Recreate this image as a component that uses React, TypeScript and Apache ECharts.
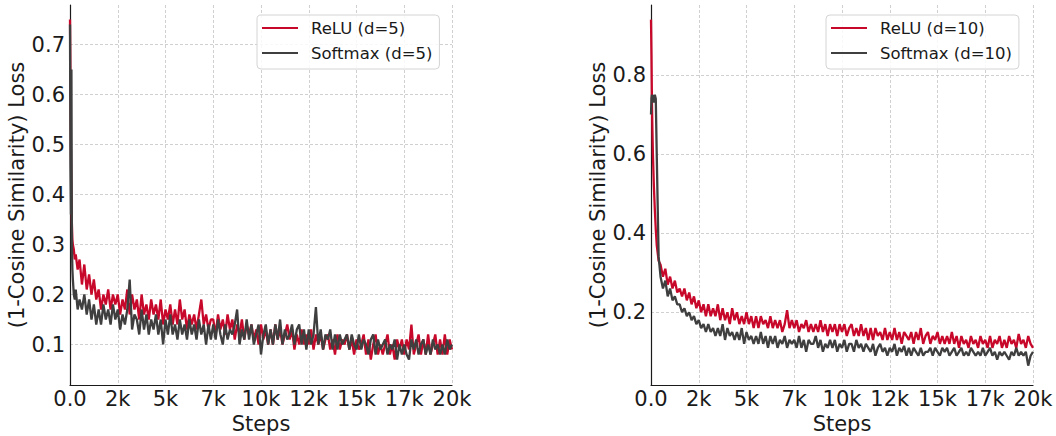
import React, { useEffect, useRef } from "react";
import * as echarts from "echarts";

// x positions (training steps)
const earlySteps = [0, 25, 50, 75, 100, 125, 150, 200, 250, 300, 400];
const mainStepStart = 500;
const mainStepSize = 125;
const mainStepCount = 157;

const xTickLabels = ["0.0", "2k", "5k", "7k", "10k", "12k", "15k", "17k", "20k"];
const xTickInterval = 2500;

const leftYTicks = [0.1, 0.2, 0.3, 0.4, 0.5, 0.6, 0.7];
const leftYLabels = ["0.1", "0.2", "0.3", "0.4", "0.5", "0.6", "0.7"];
const rightYTicks = [0.2, 0.4, 0.6, 0.8];
const rightYLabels = ["0.2", "0.4", "0.6", "0.8"];

// Left panel (d=5)
const reluD5 = [
  0.75, 0.62, 0.48, 0.40, 0.34, 0.31, 0.30, 0.29, 0.27, 0.28, 0.25,
  0.27, 0.22, 0.26, 0.21, 0.24, 0.20, 0.23, 0.19,
  0.21, 0.17, 0.20, 0.18, 0.21, 0.17, 0.20, 0.18,
  0.20, 0.16, 0.19, 0.17, 0.21, 0.16, 0.20, 0.17,
  0.19, 0.15, 0.20, 0.16, 0.18, 0.15, 0.19, 0.16,
  0.18, 0.15, 0.19, 0.14, 0.17, 0.15, 0.18, 0.14,
  0.17, 0.14, 0.19, 0.15, 0.17, 0.13, 0.16, 0.14,
  0.16, 0.13, 0.16, 0.19, 0.14, 0.16, 0.13, 0.15,
  0.15, 0.12, 0.16, 0.13, 0.15, 0.12, 0.16, 0.13,
  0.15, 0.11, 0.14, 0.12, 0.15, 0.11, 0.14, 0.12,
  0.14, 0.11, 0.13, 0.10, 0.14, 0.11, 0.13, 0.10,
  0.13, 0.10, 0.14, 0.11, 0.13, 0.10, 0.12, 0.14,
  0.11, 0.13, 0.09, 0.12, 0.10, 0.13, 0.10, 0.12,
  0.10, 0.13, 0.09, 0.12, 0.10, 0.12, 0.09, 0.11,
  0.12, 0.09, 0.11, 0.08, 0.12, 0.09, 0.11, 0.10,
  0.12, 0.09, 0.11, 0.08, 0.11, 0.09, 0.10, 0.12,
  0.08, 0.11, 0.07, 0.10, 0.12, 0.08, 0.10, 0.08,
  0.10, 0.12, 0.08, 0.10, 0.07, 0.11, 0.09, 0.11,
  0.08, 0.11, 0.09, 0.14, 0.08, 0.10, 0.12, 0.08,
  0.11, 0.08, 0.12, 0.08, 0.10, 0.12, 0.08, 0.11,
  0.08, 0.12, 0.08, 0.11, 0.09,
];

const softmaxD5 = [
  0.74, 0.45, 0.36, 0.65, 0.30, 0.25, 0.23, 0.20, 0.19, 0.21, 0.17,
  0.19, 0.17, 0.20, 0.16, 0.19, 0.15, 0.18, 0.14,
  0.17, 0.14, 0.18, 0.15, 0.17, 0.14, 0.18, 0.15,
  0.17, 0.13, 0.16, 0.14, 0.17, 0.23, 0.13, 0.16,
  0.15, 0.12, 0.17, 0.13, 0.16, 0.12, 0.15, 0.13,
  0.16, 0.12, 0.15, 0.10, 0.15, 0.12, 0.16, 0.12,
  0.14, 0.11, 0.15, 0.12, 0.14, 0.11, 0.15, 0.12,
  0.14, 0.11, 0.15, 0.12, 0.14, 0.10, 0.14, 0.11,
  0.14, 0.11, 0.15, 0.12, 0.10, 0.14, 0.11, 0.13,
  0.12, 0.14, 0.17, 0.10, 0.13, 0.11, 0.15, 0.11,
  0.14, 0.10, 0.12, 0.14, 0.08, 0.12, 0.14, 0.10,
  0.13, 0.10, 0.14, 0.11, 0.15, 0.10, 0.13, 0.11,
  0.12, 0.14, 0.10, 0.13, 0.14, 0.10, 0.13, 0.09,
  0.13, 0.10, 0.12, 0.175, 0.10, 0.13, 0.09, 0.12,
  0.11, 0.13, 0.09, 0.12, 0.09, 0.12, 0.10, 0.11,
  0.12, 0.09, 0.12, 0.10, 0.09, 0.12, 0.09, 0.11,
  0.10, 0.08, 0.11, 0.12, 0.08, 0.11, 0.09, 0.10,
  0.11, 0.08, 0.10, 0.09, 0.11, 0.07, 0.10, 0.08,
  0.10, 0.08, 0.07, 0.11, 0.09, 0.11, 0.08, 0.10,
  0.11, 0.08, 0.10, 0.08, 0.11, 0.09, 0.10, 0.08,
  0.10, 0.08, 0.11, 0.09, 0.10,
];

// Right panel (d=10)
const reluD10 = [
  0.94, 0.85, 0.73, 0.66, 0.60, 0.56, 0.52, 0.46, 0.41, 0.37, 0.33,
  0.32, 0.29, 0.31, 0.27, 0.29, 0.26, 0.28, 0.25,
  0.26, 0.24, 0.26, 0.23, 0.25, 0.22, 0.24, 0.21,
  0.23, 0.20, 0.22, 0.19, 0.22, 0.19, 0.21, 0.19,
  0.22, 0.18, 0.21, 0.18, 0.20, 0.17, 0.21, 0.18,
  0.20, 0.17, 0.19, 0.17, 0.20, 0.17, 0.19, 0.16,
  0.19, 0.16, 0.19, 0.17, 0.18, 0.16, 0.19, 0.16,
  0.18, 0.16, 0.18, 0.15, 0.17, 0.205, 0.16, 0.18,
  0.16, 0.18, 0.15, 0.17, 0.16, 0.18, 0.15, 0.17,
  0.15, 0.17, 0.15, 0.18, 0.15, 0.17, 0.14, 0.17,
  0.15, 0.17, 0.14, 0.17, 0.15, 0.17, 0.14, 0.16,
  0.17, 0.14, 0.16, 0.14, 0.17, 0.14, 0.16, 0.13,
  0.16, 0.13, 0.16, 0.14, 0.15, 0.13, 0.16, 0.13,
  0.15, 0.13, 0.16, 0.13, 0.15, 0.12, 0.15, 0.14,
  0.13, 0.15, 0.12, 0.15, 0.13, 0.16, 0.12, 0.14,
  0.15, 0.12, 0.14, 0.13, 0.15, 0.12, 0.14, 0.12,
  0.14, 0.12, 0.15, 0.12, 0.14, 0.11, 0.14, 0.12,
  0.13, 0.11, 0.14, 0.12, 0.13, 0.11, 0.14, 0.12,
  0.13, 0.11, 0.14, 0.11, 0.13, 0.12, 0.14, 0.11,
  0.13, 0.11, 0.14, 0.12, 0.13, 0.11, 0.145, 0.12,
  0.13, 0.11, 0.14, 0.12, 0.11,
];

const softmaxD10 = [
  0.70, 0.74, 0.75, 0.73, 0.75, 0.74, 0.73, 0.75, 0.74, 0.60, 0.34,
  0.29, 0.26, 0.28, 0.24, 0.26, 0.23, 0.24, 0.22,
  0.22, 0.20, 0.21, 0.19, 0.20, 0.18, 0.19, 0.17,
  0.18, 0.16, 0.17, 0.15, 0.17, 0.15, 0.16, 0.14,
  0.16, 0.14, 0.17, 0.13, 0.16, 0.14, 0.15, 0.13,
  0.15, 0.13, 0.16, 0.12, 0.15, 0.13, 0.14, 0.12,
  0.14, 0.12, 0.15, 0.12, 0.14, 0.11, 0.14, 0.12,
  0.14, 0.11, 0.13, 0.12, 0.14, 0.11, 0.13, 0.12,
  0.13, 0.11, 0.14, 0.11, 0.13, 0.10, 0.13, 0.12,
  0.12, 0.14, 0.11, 0.13, 0.10, 0.12, 0.11, 0.13,
  0.11, 0.13, 0.10, 0.12, 0.11, 0.13, 0.10, 0.12,
  0.12, 0.10, 0.13, 0.11, 0.12, 0.10, 0.12, 0.11,
  0.10, 0.12, 0.09, 0.11, 0.12, 0.10, 0.11, 0.09,
  0.11, 0.10, 0.12, 0.09, 0.11, 0.10, 0.115, 0.09,
  0.11, 0.09, 0.11, 0.10, 0.09, 0.11, 0.09, 0.10,
  0.10, 0.11, 0.09, 0.11, 0.10, 0.09, 0.11, 0.10,
  0.11, 0.09, 0.10, 0.11, 0.09, 0.10, 0.11, 0.09,
  0.10, 0.09, 0.11, 0.10, 0.09, 0.10, 0.09, 0.11,
  0.09, 0.10, 0.11, 0.09, 0.10, 0.08, 0.10, 0.09,
  0.10, 0.09, 0.08, 0.10, 0.09, 0.11, 0.09, 0.10,
  0.09, 0.10, 0.065, 0.09, 0.10,
];

const RED = "#c8082a";
const DARK = "#3f3f3f";
const FONT = "DejaVu Sans";
const TEXT = "#1a1a1a";
const GRID_COLOR = "#c4c4c4";

function buildSteps(): number[] {
  const s = [...earlySteps];
  for (let i = 0; i < mainStepCount; i++) s.push(mainStepStart + i * mainStepSize);
  return s;
}

function pairs(steps: number[], vals: number[]) {
  const n = Math.min(steps.length, vals.length);
  const out: [number, number][] = [];
  for (let i = 0; i < n; i++) out.push([steps[i], vals[i]]);
  return out;
}

function labelFor(ticks: number[], labels: string[]) {
  return (v: number) => {
    const i = ticks.findIndex((t) => Math.abs(t - v) < 1e-6);
    return i >= 0 ? labels[i] : "";
  };
}

export default function App() {
  const ref = useRef<HTMLDivElement>(null);

  useEffect(() => {
    document.body.style.margin = "0";
    if (!ref.current) return;
    const chart = echarts.init(ref.current, undefined, { renderer: "svg" });
    const steps = buildSteps();

    const xAxisBase = (gridIndex: number) => ({
      type: "value",
      gridIndex,
      min: 0,
      max: 20000,
      interval: xTickInterval,
      name: "Steps",
      nameLocation: "middle",
      nameGap: 26,
      nameTextStyle: { fontFamily: FONT, fontSize: 21, color: TEXT },
      axisLine: { show: true, lineStyle: { color: "#1a1a1a", width: 1.2 } },
      axisTick: { show: false },
      axisLabel: {
        fontFamily: FONT,
        fontSize: 21,
        color: TEXT,
        margin: 3,
        formatter: (v: number) => xTickLabels[Math.round(v / xTickInterval)] ?? "",
      },
      splitLine: {
        show: true,
        lineStyle: { color: GRID_COLOR, type: [3, 2], width: 0.8 },
      },
    });

    const yAxisBase = (
      gridIndex: number,
      min: number,
      max: number,
      step: number,
      ticks: number[],
      labels: string[]
    ) => ({
      type: "value",
      gridIndex,
      min,
      max,
      minInterval: step,
      maxInterval: step,
      name: "(1-Cosine Similarity) Loss",
      nameLocation: "middle",
      nameGap: 40,
      nameTextStyle: { fontFamily: FONT, fontSize: 21, color: TEXT },
      axisLine: { show: true, lineStyle: { color: "#1a1a1a", width: 1.2 } },
      axisTick: { show: false },
      axisLabel: {
        fontFamily: FONT,
        fontSize: 21,
        color: TEXT,
        margin: 5,
        showMinLabel: false,
        showMaxLabel: false,
        formatter: labelFor(ticks, labels),
      },
      splitLine: {
        show: true,
        showMinLine: false,
        showMaxLine: false,
        lineStyle: { color: GRID_COLOR, type: [3, 2], width: 0.8 },
      },
    });

    const legendBase = (names: string[], left: number) => ({
      data: names,
      orient: "vertical",
      left,
      top: 15,
      icon: "rect",
      itemWidth: 36,
      itemHeight: 2.2,
      itemGap: 8,
      padding: [4.5, 7, 7.5, 5],
      backgroundColor: "rgba(255,255,255,0.85)",
      borderColor: "#d4d4d4",
      borderWidth: 1,
      borderRadius: 4,
      selectedMode: false,
      textStyle: {
        fontFamily: FONT,
        fontSize: 16.5,
        lineHeight: 17,
        color: TEXT,
        padding: [0, 0, 0, 8],
      },
    });

    const lineSeries = (name: string, vals: number[], color: string, idx: number) => ({
      name,
      type: "line",
      xAxisIndex: idx,
      yAxisIndex: idx,
      data: pairs(steps, vals),
      showSymbol: false,
      symbol: "none",
      lineStyle: { color, width: 2.3 },
      itemStyle: { color },
      emphasis: { disabled: true },
    });

    chart.setOption({
      animation: false,
      backgroundColor: "#ffffff",
      grid: [
        { left: 70, top: 5, width: 382, height: 380, outerBoundsMode: "none", containLabel: false },
        { left: 651, top: 5, width: 382, height: 380, outerBoundsMode: "none", containLabel: false },
      ],
      xAxis: [xAxisBase(0), xAxisBase(1)],
      yAxis: [
        yAxisBase(0, 0.019, 0.779, 0.1, leftYTicks, leftYLabels),
        yAxisBase(1, 0.016, 0.977, 0.2, rightYTicks, rightYLabels),
      ],
      legend: [
        legendBase(["ReLU (d=5)", "Softmax (d=5)"], 257),
        legendBase(["ReLU (d=10)", "Softmax (d=10)"], 826),
      ],
      tooltip: { show: false },
      series: [
        lineSeries("ReLU (d=5)", reluD5, RED, 0),
        lineSeries("Softmax (d=5)", softmaxD5, DARK, 0),
        lineSeries("ReLU (d=10)", reluD10, RED, 1),
        lineSeries("Softmax (d=10)", softmaxD10, DARK, 1),
      ],
    });

    return () => chart.dispose();
  }, []);

  return (
    <div
      ref={ref}
      style={{ position: "relative", width: 1056, height: 436, background: "#fff" }}
    />
  );
}
